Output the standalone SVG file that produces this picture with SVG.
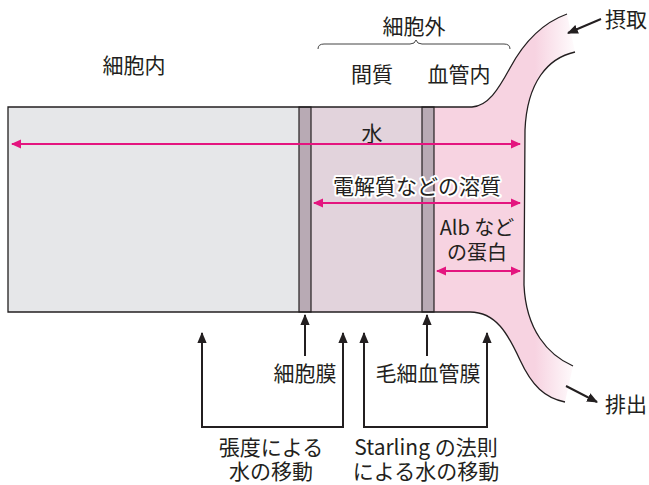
<svg xmlns="http://www.w3.org/2000/svg" width="649" height="485" viewBox="0 0 649 485">
<defs>
<style>
text{font-family:"Noto Sans CJK JP","Noto Sans",sans-serif;font-size:21px;fill:#231f20;text-anchor:middle;dominant-baseline:central}
.out{fill:none;stroke:#231f20;stroke-width:1.3}
.pk{stroke:#e4157f;stroke-width:2.2;fill:none}
.bk{stroke:#231f20;stroke-width:2;fill:none}
.halo{stroke:#fff;stroke-width:4;paint-order:stroke;stroke-linejoin:round}
.sm{font-size:20px}
</style>
<linearGradient id="pg" gradientUnits="userSpaceOnUse" x1="535" y1="0" x2="578" y2="0">
<stop offset="0" stop-color="#f7d3e1"/>
<stop offset="1" stop-color="#ffffff"/>
</linearGradient>
<marker id="ap" viewBox="0 0 10 10" refX="9" refY="5" markerWidth="10" markerHeight="10" markerUnits="userSpaceOnUse" orient="auto-start-reverse">
<path d="M0,0.5 L10,5 L0,9.5 Z" fill="#e4157f"/>
</marker>
<marker id="ab" viewBox="0 0 10 10" refX="9" refY="5" markerWidth="11" markerHeight="11" markerUnits="userSpaceOnUse" orient="auto-start-reverse">
<path d="M0,0.8 L10,5 L0,9.2 Z" fill="#231f20"/>
</marker>
</defs>

<g id="vessel">
<path d="M434 107 L472 107 C488 106 498 90 510 68 C525 40 545 22 567 14 L575 52 C548 58 527 82 525 130 L524 285 C526 330 548 355 573 366 L565 402 C545 398 532 386 520 360 C508 334 496 312 470 312 L434 312 Z" fill="url(#pg)"/>
<path class="out" d="M472 107 C488 106 498 90 510 68 C525 40 545 22 567 14"/>
<path class="out" d="M575 52 C548 58 527 82 525 130 L524 285 C526 330 548 355 573 366"/>
<path class="out" d="M565 402 C545 398 532 386 520 360 C508 334 496 312 470 312"/>
</g>
<g id="intracellular">
<rect x="8" y="107" width="291" height="205" fill="#e6e7e9"/>
</g>
<g id="interstitium">
<rect x="311" y="107" width="111" height="205" fill="#e2d3dc"/>
</g>
<g id="cell-membrane">
<rect x="299" y="107" width="12" height="205" fill="#b8aab4" stroke="#231f20" stroke-width="1.2"/>
</g>
<g id="capillary-membrane">
<rect x="422" y="107" width="12" height="205" fill="#b8aab4" stroke="#231f20" stroke-width="1.2"/>
</g>
<g id="outline">
<path class="out" d="M472 107 L8 107 L8 312 L470 312"/>
</g>

<g id="labels">
<text x="134" y="64">細胞内</text>
<text x="414" y="25">細胞外</text>
<path d="M318 49 Q318 44 324 44 L410 44 Q415 44 416 40 Q417 44 422 44 L504 44 Q510 44 510 49" fill="none" stroke="#444" stroke-width="1"/>
<text x="372" y="73">間質</text>
<text x="459" y="73">血管内</text>
<text x="626" y="18">摂取</text>
<text x="626" y="403">排出</text>
<text x="372" y="132">水</text>
<text class="halo" x="417" y="185">電解質などの溶質</text>
<text class="sm" x="477" y="226">Alb など<tspan x="477" y="251">の蛋白</tspan></text>
<text x="305" y="372">細胞膜</text>
<text x="428" y="372">毛細血管膜</text>
<text x="271" y="446">張度による<tspan x="271" y="470">水の移動</tspan></text>
<text x="426" y="446">Starling の法則<tspan x="426" y="470">による水の移動</tspan></text>
</g>

<g id="connectors">
<line class="pk" x1="12" y1="144" x2="520" y2="144" marker-start="url(#ap)" marker-end="url(#ap)"/>
<line class="pk" x1="314" y1="203" x2="520" y2="203" marker-start="url(#ap)" marker-end="url(#ap)"/>
<line class="pk" x1="437" y1="271" x2="520" y2="271" marker-start="url(#ap)" marker-end="url(#ap)"/>
<line class="bk" x1="305" y1="356" x2="305" y2="315" marker-end="url(#ab)"/>
<line class="bk" x1="427" y1="356" x2="427" y2="315" marker-end="url(#ab)"/>
<path class="bk" d="M202 333 L202 427 L343 427 L343 333" marker-start="url(#ab)" marker-end="url(#ab)"/>
<path class="bk" d="M364 333 L364 427 L487 427 L487 333" marker-start="url(#ab)" marker-end="url(#ab)"/>
<line class="bk" x1="601" y1="19" x2="568" y2="33" marker-end="url(#ab)"/>
<line class="bk" x1="566" y1="386" x2="597" y2="402" marker-end="url(#ab)"/>
</g>
</svg>
